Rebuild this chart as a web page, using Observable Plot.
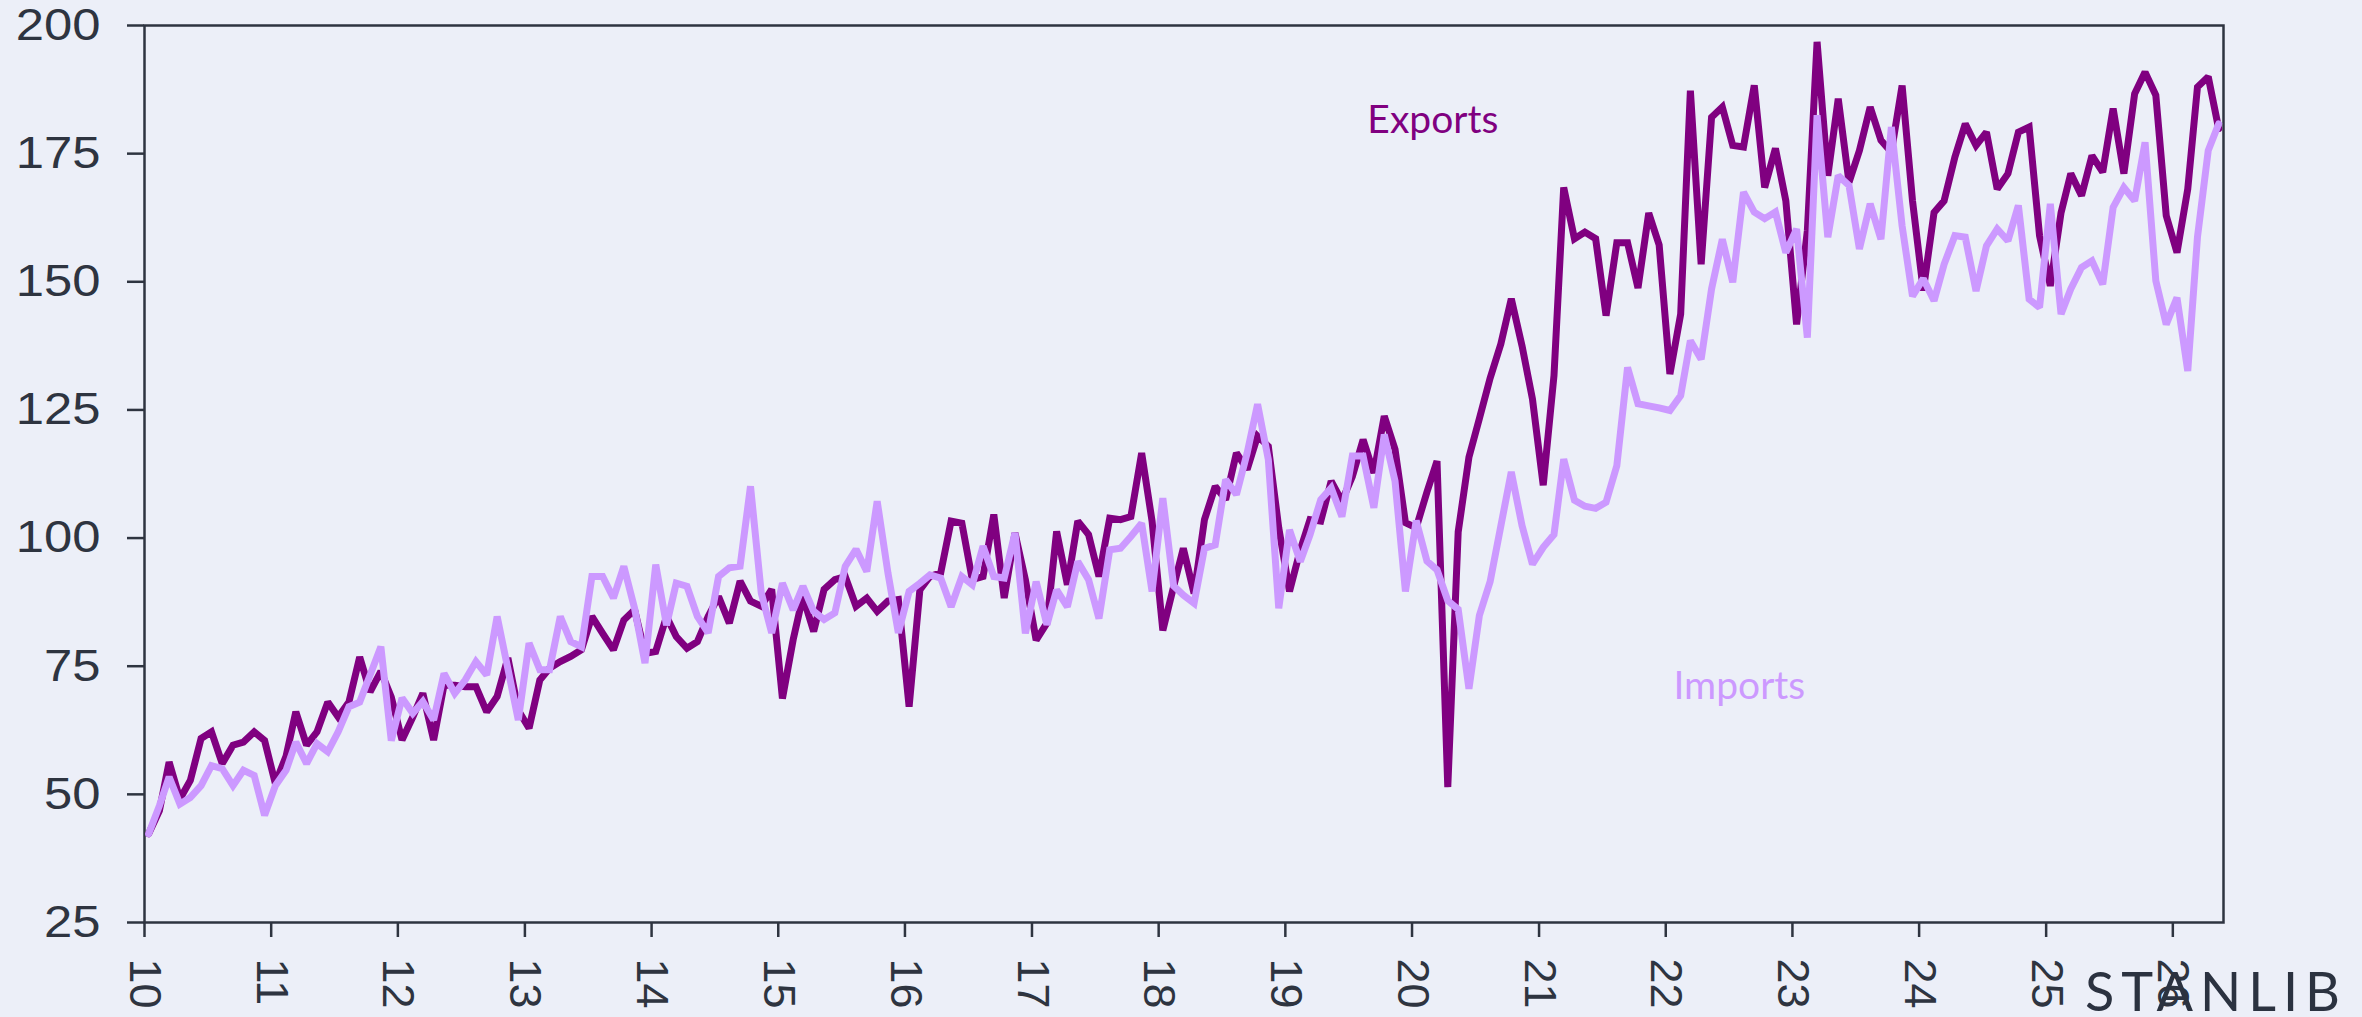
<!DOCTYPE html>
<html>
<head>
<meta charset="utf-8">
<script src="https://cdn.jsdelivr.net/npm/d3@7"></script>
<script src="https://cdn.jsdelivr.net/npm/@observablehq/plot@0.6"></script>
<style>
  html, body { margin: 0; padding: 0; background: #ECEFF8; }
  #wrap { position: relative; width: 2362px; height: 1017px; overflow: hidden; }
  #logo { position: absolute; left: 2085px; top: 964px; font-family: Lato, "Open Sans", sans-serif; font-size: 54px; line-height: 54px; letter-spacing: 7px; color: #2B3240; }
</style>
</head>
<body>
<div id="wrap"><div id="logo">STANLIB</div></div>
<script>
// Monthly index values, Jan 2010 onward
const exportsValues = [
  42.3,46.8,56.3,49.1,52.7,60.9,62.2,56.0,59.6,60.2,62.2,60.5,
  52.1,57.5,66.1,59.6,62.2,68.0,65.1,68.0,76.8,70.0,74.0,69.0,
  60.6,65.1,69.7,60.6,71.3,71.3,71.0,71.0,66.1,69.1,76.6,66.4,
  62.9,72.3,74.6,75.9,76.9,78.2,84.7,81.4,78.2,84.0,86.0,77.5,
  77.9,84.7,80.8,78.5,79.8,84.7,88.6,83.4,91.6,87.7,86.7,90.0,
  68.7,80.2,88.6,81.8,90.0,91.9,92.5,86.7,88.3,85.7,87.7,88.0,
  67.1,89.9,92.5,93.2,103.3,102.9,91.9,92.5,104.6,88.3,101.0,91.9,
  80.1,83.4,101.3,90.9,103.3,100.7,92.5,103.9,103.6,104.2,116.6,103.3,
  82.0,90.5,98.0,89.2,103.6,110.1,107.5,116.6,113.4,119.9,117.9,102.0,
  89.6,97.7,103.6,103.3,111.1,107.2,112.0,119.2,112.7,123.8,117.3,103.0,
  102.0,109.0,115.0,51.4,101.2,115.8,123.3,131.2,137.9,146.7,137.5,127.1,
  110.3,131.7,168.4,158.4,159.7,158.4,143.4,157.6,157.6,148.8,163.4,157.2,
  132.0,143.7,187.3,153.4,182.1,184.1,176.6,176.3,188.3,168.4,176.0,165.8,
  141.7,160.0,196.8,170.7,185.7,169.4,175.6,184.1,177.6,175.3,188.3,165.8,
  148.3,163.5,165.8,174.3,180.8,176.6,179.2,168.1,171.1,179.2,180.2,159.0,
  149.2,163.5,171.1,166.8,174.6,171.4,183.8,171.1,186.7,190.9,186.4,162.9,
  155.7,168.1,188.0,190.0,179.9
];
const importsValues = [
  42.3,47.8,53.4,48.1,49.4,51.7,55.6,55.0,51.7,54.7,53.7,45.9,
  51.7,54.7,60.2,56.0,59.9,58.3,62.2,67.1,68.0,73.3,78.8,60.5,
  68.8,65.8,68.1,64.5,73.6,69.7,72.3,75.9,73.3,84.7,74.5,64.5,
  79.5,74.3,74.3,84.7,79.8,78.8,92.5,92.5,88.3,94.5,86.3,75.6,
  94.8,83.0,91.2,90.6,84.7,81.5,92.5,94.2,94.5,110.1,89.3,81.5,
  91.2,86.0,90.6,85.7,84.1,85.4,94.5,97.8,93.5,107.2,93.2,81.5,
  89.6,91.2,92.8,92.2,86.6,92.5,90.9,98.4,92.5,92.2,101.0,81.4,
  91.5,83.1,89.9,86.6,95.4,91.9,84.3,97.7,98.0,100.3,102.9,89.6,
  107.8,90.7,88.9,87.3,98.0,98.7,111.4,108.5,116.6,126.1,115.3,86.3,
  101.6,95.4,100.6,107.5,109.8,104.2,116.0,116.0,105.9,120.2,111.1,89.6,
  103.4,95.5,93.8,87.8,86.1,70.6,84.9,91.5,102.4,112.9,102.4,94.9,
  98.2,100.7,115.4,107.4,106.2,105.8,107.0,114.1,133.3,126.2,125.8,125.4,
  124.9,127.8,138.5,134.9,148.6,158.3,149.9,167.5,163.6,162.3,163.6,155.7,
  160.3,139.1,182.5,158.7,170.7,168.8,156.4,165.2,158.3,180.2,160.9,147.2,
  150.6,146.3,153.4,159.0,158.7,148.2,157.0,160.3,158.0,164.9,146.6,145.0,
  165.2,143.7,148.6,152.8,154.1,149.5,164.5,168.4,165.8,177.2,150.2,141.7,
  146.9,132.6,158.7,175.6,180.8
];
const yTicks = [25, 50, 75, 100, 125, 150, 175, 200];
const xTickYears = [2010,2011,2012,2013,2014,2015,2016,2017,2018,2019,2020,2021,2022,2023,2024,2025,2026];
const seriesLabels = [
  {name: "Exports", year: 2020, month: 2, value: 181.5},
  {name: "Imports", year: 2022, month: 7, value: 71}
];
const colors = {Exports: "#800080", Imports: "#CC99FF"};

const monthDate = i => new Date(Date.UTC(2010, i, 13));
const rows = [];
exportsValues.forEach((v, i) => rows.push({date: monthDate(i), value: v, series: "Exports"}));
importsValues.forEach((v, i) => rows.push({date: monthDate(i), value: v, series: "Imports"}));
const labelRows = seriesLabels.map(d => ({...d, date: new Date(Date.UTC(d.year, d.month, 1))}));
const ink = "#2E3440";

const chart = Plot.plot({
  width: 2362,
  height: 1017,
  marginLeft: 144,
  marginRight: 139,
  marginTop: 25,
  marginBottom: 95,
  style: {background: "transparent", fontFamily: "'Liberation Sans', Arial, sans-serif", fontSize: "45px", color: ink},
  x: {type: "utc", domain: [new Date(Date.UTC(2010,0,1)), new Date(Date.UTC(2026,4,27))]},
  y: {domain: [25, 200]},
  marks: [
    Plot.frame({stroke: ink, strokeWidth: 2.5}),
    Plot.axisY({ticks: yTicks, tickSize: 17, tickPadding: 27, strokeWidth: 2.5, label: null, fontSize: 45, ariaLabel: "y-axis"}),
    Plot.axisX({ticks: xTickYears.map(y => new Date(Date.UTC(y,0,1))), tickFormat: d3.utcFormat("%y"), tickSize: 15, tickPadding: 21, tickRotate: 90, strokeWidth: 2.5, label: null, fontSize: 45}),
    Plot.line(rows.filter(d => d.series === "Exports"), {x: "date", y: "value", stroke: colors.Exports, strokeWidth: 7, strokeLinejoin: "miter", strokeMiterlimit: 2}),
    Plot.line(rows.filter(d => d.series === "Imports"), {x: "date", y: "value", stroke: colors.Imports, strokeWidth: 7, strokeLinejoin: "miter", strokeMiterlimit: 2}),
    Plot.text(labelRows, {x: "date", y: "value", text: "name", fill: d => colors[d.name], fontSize: 39, fontFamily: "Lato, 'Open Sans', sans-serif"})
  ]
});
// widen the y tick labels horizontally, as in the reference typeface
d3.select(chart).selectAll('g[aria-label="y-axis tick label"] text').each(function() {
  const t = this.getAttribute("transform") || "";
  this.setAttribute("transform", t + " scale(1.13,1)");
});
document.getElementById("wrap").prepend(chart);
</script>
</body>
</html>
